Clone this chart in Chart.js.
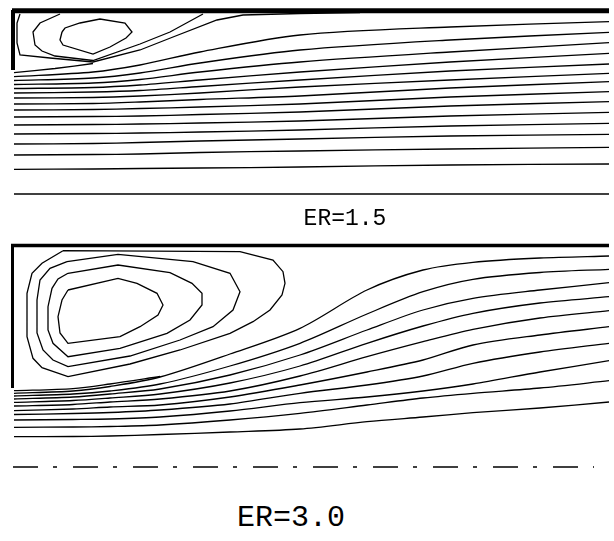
<!DOCTYPE html>
<html>
<head>
<meta charset="utf-8">
<script src="https://cdn.jsdelivr.net/npm/chart.js@4.4.0/dist/chart.umd.min.js"></script>
<style>
  body { margin: 0; background: #fff; }
  #wrap { position: relative; width: 614px; height: 541px; }
  canvas { position: absolute; left: 0; }
  .lbl { position: absolute; width: 200px; text-align: center; color: #000;
         font-family: "Liberation Mono", "DejaVu Sans Mono", monospace; white-space: nowrap; }
</style>
</head>
<body>
<div id="wrap">
  <canvas id="er15" width="614" height="200" style="top:0"></canvas>
  <canvas id="er30" width="614" height="250" style="top:230px"></canvas>
  <div class="lbl" style="left:245px; top:208px; font-size:23px; line-height:23px;">ER=1.5</div>
  <div class="lbl" style="left:191px; top:503px; font-size:30px; line-height:30px;">ER=3.0</div>
</div>
<script>
/* ---------- ER = 1.5 (top panel) ---------- */
var topX = [14, 93, 140, 200, 300, 450, 609];
var topLines = [
    [76.7, 72, 65, 52, 35, 27, 21.7],
    [80.5, 78, 73, 63, 50, 40, 32.3],
    [84.5, 83, 79.5, 72, 62, 52, 42.7],
    [88.5, 87.5, 85, 80, 72, 62, 53.3],
    [93, 92, 90.5, 86.5, 80, 71, 64],
    [98, 97.5, 96, 93, 87, 80, 73.3],
    [104, 103.5, 102, 99.5, 96, 88, 81.7],
    [110, 109.5, 108.5, 107, 104, 97, 91.7],
    [117, 116.5, 116, 114.5, 112, 106, 101.7],
    [125, 124.5, 124, 123, 121, 116, 112.3],
    [134, 133.5, 133, 132, 130, 126, 123.3],
    [144, 143.5, 142.5, 141, 139, 136, 134.3],
    [155, 154.5, 154, 152.5, 151, 149, 147.3],
    [169.3, 169, 168.5, 168, 167, 165, 164],
    [194, 194, 194, 194, 194, 194, 194]
];
var topSepX = [14, 55, 93];
var topSepY = [72.7, 68.5, 63.5];
var topEddyInX = [62, 65, 80, 100, 125, 132, 126, 110, 93, 63, 60, 62];
var topEddyInY = [32, 28, 23, 19, 23, 32, 38, 47, 54, 45, 40, 32];
var topEddyMidX = [60, 40, 33, 35, 42, 55, 93, 140, 170, 203];
var topEddyMidY = [14, 23, 32, 45, 51, 56, 60.5, 44, 32, 14];
var topEddyOutX = [20, 17, 17, 20, 50, 93, 140, 173, 217, 243, 300, 360];
var topEddyOutY = [14, 23, 43, 55, 58, 62, 50, 37, 20, 15, 13.5, 12.5];

/* ---------- ER = 3.0 (bottom panel) ---------- */
var botX = [14, 73, 110, 160, 230, 300, 367, 423, 473, 540, 609];
var botLines = [
    [393.3, 391, 386.5, 377, 354, 328.3, 290, 270, 262.3, 258, 256],
    [396, 394, 391, 384, 366, 343.3, 314, 291.7, 279.3, 272.5, 269.3],
    [399, 397, 394, 389, 375, 355, 330, 310, 298.3, 290, 282.7],
    [402.3, 400.5, 398, 394, 383, 366, 343.3, 326, 313.3, 303, 296.7],
    [406, 404.5, 402, 399, 391, 376, 356.7, 341.7, 329.3, 318, 310.7],
    [410.7, 409, 407, 405, 397, 385, 372, 360, 345, 335, 326.7],
    [414.5, 413.5, 412.5, 410, 404, 393.3, 385, 376, 363.3, 352, 343.3],
    [420, 419.5, 419, 417, 411, 402.7, 397, 391, 384, 372, 360.7],
    [427.3, 427, 426.5, 425, 420, 413.3, 405, 398, 393.3, 388, 380.7],
    [436.7, 436.5, 436, 434.5, 432, 429, 421.7, 417, 412.7, 408, 402]
];
var botSepX = [14, 73, 110, 160];
var botSepY = [390.7, 388.6, 384, 376.5];
var botLoop1X = [68, 118, 137, 157, 163, 158, 140, 120, 68, 60, 58, 62, 68];
var botLoop1Y = [290, 278.3, 283.3, 293.3, 305, 315, 326.7, 336.7, 343.3, 333, 316.7, 300, 290];
var botLoop2X = [68, 118, 170, 192, 202, 202, 190, 167, 120, 68, 53, 48, 48, 52, 58, 68];
var botLoop2Y = [273.3, 265, 272.7, 283.3, 293.3, 305, 320, 333.3, 348.3, 356.7, 343.3, 330, 306.7, 288.3, 279, 273.3];
var botLoop3X = [67, 118, 193, 230, 240, 233, 213, 180, 130, 68, 53, 43, 37, 37, 40, 50, 67];
var botLoop3Y = [261.7, 254.3, 261.7, 273.3, 291.7, 310, 326.7, 340, 356, 366.7, 360, 350, 333, 300, 280, 268.3, 261.7];
var botLoop4X = [63, 240, 273, 283, 285, 282, 270, 253, 230, 180, 130, 68, 42, 33, 27, 27, 32, 42, 63];
var botLoop4Y = [250.7, 251.7, 260, 271.7, 283.3, 295, 310, 321.7, 333.3, 350, 364, 376.7, 367.7, 358.3, 336.7, 293.3, 273.3, 263.3, 250.7];

function pts(xs, ys) {
    return xs.map(function (x, i) { return { x: x, y: ys[i] }; });
}

function line(xs, ys, w, tension, dash) {
    return {
        data: pts(xs, ys),
        showLine: true,
        borderColor: '#000',
        borderWidth: w,
        pointRadius: 0,
        fill: false,
        tension: tension,
        borderDash: dash || [],
        borderCapStyle: 'butt'
    };
}

function panel(id, yMin, yMax, sets) {
    return new Chart(document.getElementById(id), {
        type: 'scatter',
        data: { datasets: sets },
        options: {
            responsive: false,
            animation: false,
            layout: { padding: 0 },
            plugins: { legend: { display: false }, tooltip: { enabled: false } },
            scales: {
                x: { type: 'linear', display: false, min: 0, max: 614 },
                y: { type: 'linear', display: false, min: yMin, max: yMax, reverse: true }
            }
        }
    });
}

var topSets = [
    line([12, 609], [10.8, 10.8], 5, 0),
    line([13, 13], [10, 70], 4, 0),
    line(topSepX, topSepY, 1.3, 0.2),
    line(topEddyInX, topEddyInY, 1.3, 0),
    line(topEddyMidX, topEddyMidY, 1.3, 0),
    line(topEddyOutX, topEddyOutY, 1.3, 0)
];
topLines.forEach(function (ys) { topSets.push(line(topX, ys, 1.3, 0.3)); });
panel('er15', 0, 200, topSets);

var botSets = [
    line([11, 609], [245.5, 245.5], 3.5, 0),
    line([12.5, 12.5], [244, 388], 3, 0),
    line(botSepX, botSepY, 1.3, 0.3),
    line(botLoop1X, botLoop1Y, 1.3, 0),
    line(botLoop2X, botLoop2Y, 1.3, 0),
    line(botLoop3X, botLoop3Y, 1.3, 0),
    line(botLoop4X, botLoop4Y, 1.3, 0),
    line([13, 594], [467, 467], 1.5, 0, [25, 15, 4, 16])
];
botLines.forEach(function (ys) { botSets.push(line(botX, ys, 1.3, 0.3)); });
panel('er30', 230, 480, botSets);
</script>
</body>
</html>
